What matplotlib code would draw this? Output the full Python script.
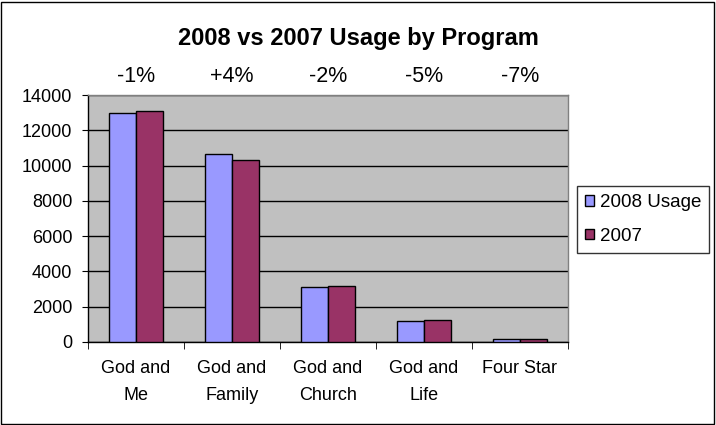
import matplotlib
matplotlib.use("Agg")
import matplotlib.pyplot as plt
import numpy as np
from matplotlib.patches import Rectangle

categories = ["God and\nMe", "God and\nFamily", "God and\nChurch", "God and\nLife", "Four Star"]
usage_2008 = [13000, 10650, 3100, 1200, 180]
usage_2007 = [13100, 10300, 3200, 1260, 195]
pct_labels = ["-1%", "+4%", "-2%", "-5%", "-7%"]
yticks = [0, 2000, 4000, 6000, 8000, 10000, 12000, 14000]

plt.rcParams['font.family'] = ['Liberation Sans', 'DejaVu Sans']

W, H = 716, 425
fig = plt.figure(figsize=(W / 100, H / 100), dpi=100)
fig.patch.set_facecolor('white')
fig.add_artist(Rectangle((1 / W, 1 / H), (W - 3) / W, (H - 3) / H, transform=fig.transFigure,
                         fill=False, edgecolor='black', linewidth=1))

left, right, top, bottom = 88, 568, 95, 342
ax = fig.add_axes([left / W, 1 - bottom / H, (right - left) / W, (bottom - top) / H])
ax.set_facecolor('#C0C0C0')

x = np.arange(len(categories))
bw = 0.285
ax.bar(x - bw / 2, usage_2008, bw, color='#9999FF', edgecolor='black', linewidth=1, label='2008 Usage', zorder=3)
ax.bar(x + bw / 2, usage_2007, bw, color='#993366', edgecolor='black', linewidth=1, label='2007', zorder=3)

ax.set_xlim(-0.5, len(categories) - 0.5)
ax.set_ylim(0, 14000)
ax.set_yticks(yticks)
ax.set_yticklabels([str(v) for v in yticks], fontsize=13)
ax.yaxis.grid(True, color='black', linewidth=1, zorder=1)
ax.set_axisbelow(True)

ax.set_xticks(x)
ax.set_xticklabels(categories, fontsize=13, linespacing=1.75)
ax.tick_params(axis='x', length=0, pad=13)
ax.set_xticks(np.arange(len(categories) + 1) - 0.5, minor=True)
ax.tick_params(axis='x', which='minor', length=5, direction='out', color='black')
ax.tick_params(axis='y', length=4.3, direction='out', color='black', pad=7)

for s in ['top', 'right']:
    ax.spines[s].set_color('#808080')
    ax.spines[s].set_linewidth(1)
for s in ['left', 'bottom']:
    ax.spines[s].set_color('black')
    ax.spines[s].set_linewidth(1)

for xi, lab in zip(x, pct_labels):
    ax.text(xi, 1 + (95 - 76) / (bottom - top), lab, transform=ax.get_xaxis_transform(),
            ha='center', va='center', fontsize=15.5)

fig.text(358 / W, 1 - 38 / H, "2008 vs 2007 Usage by Program", ha='center', va='center',
         fontsize=17, fontweight='bold')

leg = fig.legend(loc='upper left', bbox_to_anchor=(577 / W, 1 - 186 / H), fontsize=13.5,
                 frameon=True, fancybox=False, edgecolor='black', handlelength=0.5, handleheight=0.5,
                 handletextpad=0.3, borderpad=0.42, labelspacing=0.9, borderaxespad=0)
leg.get_frame().set_linewidth(1)

fig.savefig('out.png', dpi=100)
